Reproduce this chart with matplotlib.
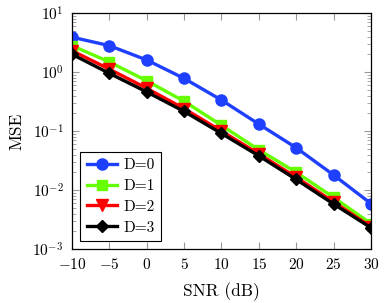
import matplotlib
matplotlib.use('Agg')
import matplotlib.pyplot as plt
import numpy as np

plt.rcParams['font.family'] = 'cmr10'
plt.rcParams['mathtext.fontset'] = 'cm'
plt.rcParams['axes.formatter.use_mathtext'] = True
plt.rcParams['axes.unicode_minus'] = False

snr = [-10, -5, 0, 5, 10, 15, 20, 25, 30]
mse_d0 = [3.9, 2.8, 1.6, 0.78, 0.335, 0.131, 0.052, 0.018, 0.0059]
mse_d1 = [2.8, 1.48, 0.71, 0.32, 0.125, 0.048, 0.020, 0.0075, 0.0027]
mse_d2 = [2.3, 1.12, 0.53, 0.24, 0.10, 0.041, 0.0165, 0.0063, 0.0024]
mse_d3 = [2.0, 0.95, 0.46, 0.215, 0.091, 0.038, 0.0151, 0.0058, 0.0023]
labels = ['D=0', 'D=1', 'D=2', 'D=3']
xticks = [-10, -5, 0, 5, 10, 15, 20, 25, 30]

fig = plt.figure(figsize=(3.86, 3.03), dpi=100)
ax = fig.add_axes([0.1865, 0.178, 0.7745, 0.779])

styles = [('#1f3fff', 'o', 8), ('#66ff00', 's', 7.5), ('#ff0000', 'v', 8), ('#000000', 'D', 6)]
for ys, lab, (c, m, ms) in zip([mse_d0, mse_d1, mse_d2, mse_d3], labels, styles):
    ax.plot(snr, ys, color=c, marker=m, markersize=ms, linewidth=2.4, label=lab)

ax.set_yscale('log')
ax.set_xlim(-10, 30)
ax.set_ylim(1e-3, 1e1)
ax.set_xticks(xticks)
ax.set_xticklabels(['$%d$' % v for v in xticks])
ax.tick_params(which='both', direction='in', top=True, right=True, color='#999999', labelsize=11)
ax.tick_params(which='major', length=5)
ax.tick_params(which='minor', length=3)
ax.tick_params(axis='x', pad=6)
ax.tick_params(axis='y', pad=6)
for s in ax.spines.values():
    s.set_linewidth(0.9)

ax.set_xlabel('SNR (dB)', fontsize=12.5, labelpad=7)
ax.set_ylabel('MSE', fontsize=12.5, labelpad=6)

leg = ax.legend(loc='lower left', fontsize=11, fancybox=False, framealpha=1,
                edgecolor='black', handlelength=2.0, borderaxespad=0.55,
                labelspacing=0.46, handletextpad=0.4)
leg.get_frame().set_linewidth(0.8)

fig.savefig('out.png', dpi=100)
